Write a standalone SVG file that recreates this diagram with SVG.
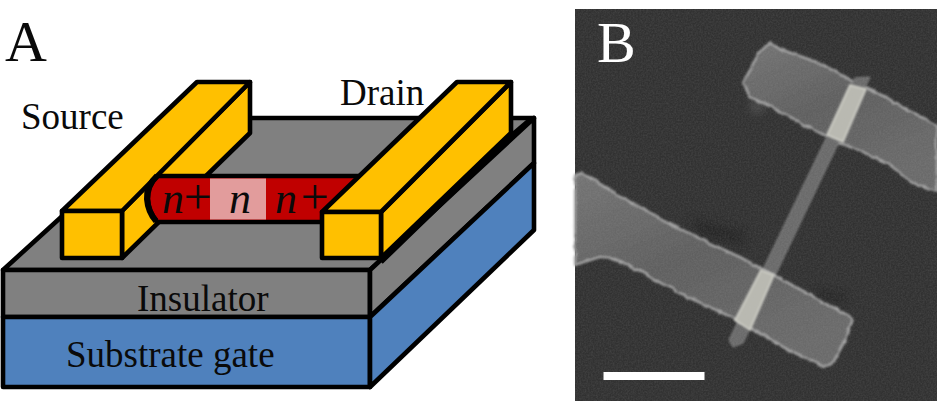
<svg xmlns="http://www.w3.org/2000/svg" width="937" height="401" viewBox="0 0 937 401">
<style>
.o{stroke:#000;stroke-width:4.600;stroke-linejoin:round;stroke-linecap:round}
.y{fill:#FFC000}.g{fill:#808080}.b{fill:#4F81BD}
text{font-family:"Liberation Serif","Times New Roman",serif;fill:#0a0a0a}
.l{font-size:37px}
.i{font-size:44px;font-style:italic}
.p{font-size:50px}
.pad{fill:url(#padg);stroke:#a6a6a6;stroke-width:2.200;stroke-linejoin:round;filter:url(#rough)}
.strip{fill:#b9b9b1;stroke:#d6d6ce;stroke-width:1.500;filter:url(#soft)}
</style>
<defs>
<linearGradient id="padg" x1="0" y1="0" x2="0.6" y2="1"><stop offset="0" stop-color="#747474"/><stop offset="0.5" stop-color="#5f5f5f"/><stop offset="1" stop-color="#6a6a6a"/></linearGradient>
<filter id="soft" x="-10%" y="-10%" width="120%" height="120%"><feGaussianBlur stdDeviation="0.800"/></filter>
<filter id="smudge" x="-30%" y="-30%" width="160%" height="160%"><feGaussianBlur stdDeviation="4"/></filter>
<filter id="rough" x="-5%" y="-5%" width="110%" height="110%"><feTurbulence type="fractalNoise" baseFrequency="0.12" numOctaves="2" seed="7" result="t"/><feDisplacementMap in="SourceGraphic" in2="t" scale="4" xChannelSelector="R" yChannelSelector="G"/><feGaussianBlur stdDeviation="0.900"/></filter>
<filter id="noise" x="0" y="0" width="100%" height="100%"><feTurbulence type="fractalNoise" baseFrequency="0.6" numOctaves="2" seed="4"/><feColorMatrix values="0 0 0 0 0.5 0 0 0 0 0.5 0 0 0 0 0.5 0.7 0 0 0 -0.2"/></filter>
</defs>
<rect width="937" height="401" fill="#fff"/>
<g id="device">
<g id="insulator">
<path class="o g" d="M3 270L170 118H534L370 270Z"/>
<path class="o g" d="M3 270H370V317H3Z"/>
<path class="o g" d="M370 270L534 118V163L370 317Z"/>
</g>
<g id="substrate-gate">
<path class="o b" d="M3 317H370V387H3Z"/>
<path class="o b" d="M370 317L534 163V230L370 387Z"/>
</g>
<g id="source">
<path class="o y" d="M122 258L250 133V82L122 211Z"/>
<path class="o y" d="M62 211L197 82H250L122 211Z"/>
<path class="o y" d="M62 211H122V258H62Z"/>
</g>
<g id="channel">
<path d="M157 176H372V222H157Q148 210 148 199Q148 186 157 176Z" fill="#C00000" class="o"/>
<path d="M157 176Q146 186 147 199Q148 212 156 221" fill="none" stroke="#000" stroke-width="6"/>
<rect x="210" y="178.500" width="56" height="41" fill="#E29C9C"/>
<text class="i" x="162" y="213">n</text>
<text class="p" x="184" y="214">+</text>
<text class="i" x="229" y="213">n</text>
<text class="i" x="275" y="213">n</text>
<text class="p" x="301" y="214">+</text>
</g>
<g id="drain">
<path d="M381 262L511 136L530 120" fill="none" stroke="#000" stroke-width="5"/>
<path class="o y" d="M381 258L511 133V82L381 212Z"/>
<path class="o y" d="M322 212L457 82H511L381 212Z"/>
<path class="o y" d="M322 212H381V258H322Z"/>
</g>
<text class="l" x="21" y="129">Source</text>
<text class="l" x="340" y="105">Drain</text>
<text class="l" x="137" y="311">Insulator</text>
<text class="l" x="66" y="367">Substrate gate</text>
<text x="5" y="61" font-size="58">A</text>
</g>
<g id="micrograph">
<rect x="575" y="9" width="362" height="392" fill="#313131"/>
<path d="M690 218L745 232L745 246L700 236Z" fill="#242424" filter="url(#smudge)" opacity="0.7"/>
<path d="M815 288L847 296L845 304L820 298Z" fill="#222" filter="url(#smudge)" opacity="0.7"/>
<path d="M749 100L762 100L765 112L752 114Z" fill="#5a5a5a" filter="url(#smudge)" opacity="0.6"/>
<path class="pad" d="M743 83L750 70L758 53L770 43L783 50L800 56L820 63L850 80L880 94L903 107L937 125V191L913 183L887 163L862 152L840 143L810 128L777 110L750 97Z"/>
<path d="M855 78L870 77L743 343L733 347L729 340Z" fill="#6a6a6a" stroke="#7e7e7e" stroke-width="1" filter="url(#soft)"/>
<path class="pad" d="M575 175L582 173L610 190L660 218L703 240L740 257L783 280L853 318L847 337L833 363L823 367L783 347L737 320L677 292L637 270L613 258L600 257L575 265Z"/>
<path class="strip" d="M850 85L866 89L843 142L827 135Z"/>
<path class="strip" d="M761 270L774 275L750 330L735 320Z"/>
<rect x="575" y="9" width="362" height="392" filter="url(#noise)" opacity="0.3"/>
<rect x="603.500" y="372" width="101" height="8" fill="#fff"/>
<text x="597" y="62" font-size="58" style="fill:#fff">B</text>
</g>
</svg>
